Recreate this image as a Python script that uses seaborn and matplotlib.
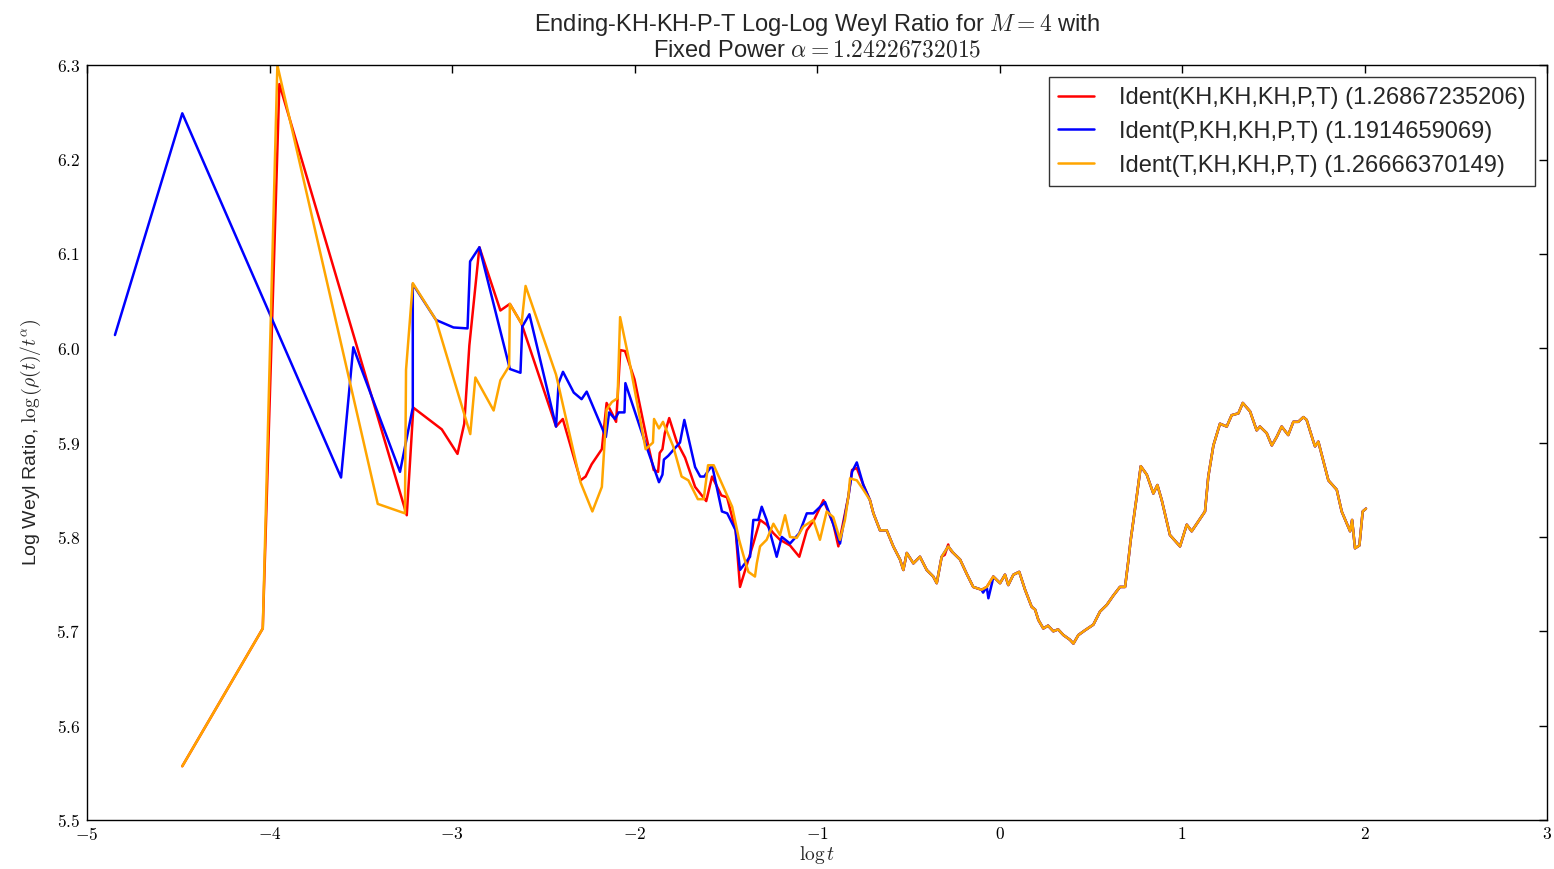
import matplotlib
matplotlib.use("Agg")
import matplotlib.pyplot as plt
import matplotlib.ticker as mticker
import seaborn as sns
import numpy as np
import pandas as pd

# values (log t, log Weyl ratio)
red_x = [-4.478, -4.037, -3.946, -3.248, -3.212, -3.056, -2.970, -2.933, -2.905, -2.850,
         -2.735, -2.683, -2.619, -2.430, -2.393, -2.296, -2.268, -2.235, -2.179, -2.153,
         -2.126, -2.101, -2.093, -2.078, -2.052, -2.000, -1.935, -1.895, -1.871, -1.862,
         -1.847, -1.834, -1.810, -1.769, -1.723, -1.668, -1.607, -1.575, -1.524, -1.493,
         -1.446, -1.422, -1.349, -1.312, -1.276, -1.239, -1.203, -1.148, -1.097, -1.056,
         -1.016, -0.965, -0.911, -0.883, -0.828, -0.808, -0.782, -0.746, -0.710,
         -0.300, -0.281, -0.260]
red_y = [5.557, 5.703, 6.280, 5.823, 5.937, 5.914, 5.888, 5.920, 6.003, 6.107,
         6.040, 6.047, 6.026, 5.917, 5.925, 5.860, 5.864, 5.877, 5.893, 5.942,
         5.932, 5.922, 5.946, 5.998, 5.997, 5.967, 5.906, 5.871, 5.869, 5.889,
         5.893, 5.910, 5.926, 5.901, 5.884, 5.853, 5.838, 5.864, 5.844, 5.842,
         5.807, 5.747, 5.793, 5.818, 5.813, 5.804, 5.797, 5.791, 5.779, 5.807,
         5.818, 5.839, 5.814, 5.790, 5.843, 5.871, 5.873, 5.855, 5.839,
         5.781, 5.792, 5.784]

blue_x = [-4.847, -4.478, -3.608, -3.541, -3.285, -3.215, -3.215, -3.088, -2.992, -2.915,
          -2.901, -2.850, -2.683, -2.625, -2.615, -2.576, -2.430, -2.416, -2.392, -2.333,
          -2.290, -2.262, -2.157, -2.139, -2.107, -2.087, -2.055, -2.050, -1.935, -1.866,
          -1.847, -1.839, -1.815, -1.779, -1.751, -1.727, -1.668, -1.640, -1.618, -1.575,
          -1.521, -1.492, -1.446, -1.422, -1.367, -1.349, -1.322, -1.303, -1.276, -1.221,
          -1.193, -1.148, -1.097, -1.056, -1.020, -0.956, -0.919, -0.874, -0.828, -0.808,
          -0.782, -0.746, -0.710,
          -0.090, -0.061, -0.040]
blue_y = [6.014, 6.249, 5.863, 6.001, 5.869, 5.937, 6.068, 6.030, 6.022, 6.021,
          6.092, 6.107, 5.978, 5.974, 6.023, 6.036, 5.917, 5.963, 5.975, 5.953,
          5.946, 5.954, 5.906, 5.932, 5.925, 5.932, 5.932, 5.963, 5.896, 5.858,
          5.866, 5.882, 5.886, 5.894, 5.900, 5.924, 5.874, 5.864, 5.864, 5.876,
          5.827, 5.825, 5.807, 5.765, 5.779, 5.818, 5.818, 5.832, 5.818, 5.779,
          5.800, 5.793, 5.804, 5.825, 5.825, 5.837, 5.818, 5.793, 5.843, 5.869,
          5.879, 5.855, 5.839,
          5.741, 5.735, 5.752]

orange_x = [-4.478, -4.037, -3.957, -3.407, -3.258, -3.252, -3.215, -3.088, -2.900, -2.872,
            -2.772, -2.735, -2.687, -2.683, -2.619, -2.597, -2.430, -2.296, -2.231, -2.179,
            -2.153, -2.124, -2.093, -2.079, -2.028, -1.939, -1.899, -1.893, -1.866, -1.844,
            -1.788, -1.742, -1.705, -1.653, -1.621, -1.597, -1.566, -1.465, -1.427, -1.404,
            -1.376, -1.340, -1.330, -1.312, -1.276, -1.239, -1.203, -1.175, -1.148, -1.111,
            -1.075, -1.020, -0.984, -0.947, -0.911, -0.874, -0.847, -0.828, -0.819, -0.782,
            -0.746, -0.710]
orange_y = [5.557, 5.703, 6.300, 5.835, 5.825, 5.977, 6.069, 6.030, 5.909, 5.969,
            5.934, 5.966, 5.981, 6.047, 6.026, 6.066, 5.972, 5.858, 5.827, 5.853,
            5.935, 5.943, 5.947, 6.033, 5.986, 5.893, 5.900, 5.925, 5.915, 5.922,
            5.896, 5.864, 5.860, 5.840, 5.840, 5.876, 5.876, 5.832, 5.797, 5.781,
            5.763, 5.758, 5.772, 5.790, 5.797, 5.814, 5.802, 5.823, 5.800, 5.799,
            5.811, 5.818, 5.797, 5.827, 5.821, 5.797, 5.818, 5.843, 5.862, 5.860,
            5.850, 5.839]

# shared part where the three curves lie on top of each other
tail_x = [-0.691, -0.655, -0.618, -0.582, -0.545, -0.527, -0.508, -0.472, -0.436, -0.399,
          -0.363, -0.344, -0.317, -0.281, -0.253, -0.216, -0.180, -0.144, -0.098, -0.070,
          -0.034, 0.003, 0.030, 0.048, 0.076, 0.108, 0.140, 0.176, 0.195, 0.213,
          0.240, 0.266, 0.295, 0.321, 0.350, 0.386, 0.405, 0.432, 0.468, 0.514,
          0.551, 0.588, 0.624, 0.660, 0.688, 0.706, 0.719, 0.752, 0.774, 0.807,
          0.843, 0.865, 0.889, 0.934, 0.989, 1.026, 1.053, 1.081, 1.126, 1.144,
          1.172, 1.208, 1.245, 1.272, 1.309, 1.333, 1.373, 1.409, 1.427, 1.464,
          1.492, 1.519, 1.546, 1.582, 1.610, 1.637, 1.665, 1.683, 1.720, 1.729,
          1.747, 1.802, 1.848, 1.875, 1.921, 1.932, 1.948, 1.972, 1.990, 2.008]
tail_y = [5.825, 5.807, 5.807, 5.790, 5.776, 5.765, 5.783, 5.772, 5.779, 5.765,
          5.758, 5.751, 5.779, 5.790, 5.783, 5.776, 5.761, 5.747, 5.744, 5.747,
          5.758, 5.751, 5.760, 5.749, 5.760, 5.763, 5.744, 5.726, 5.723, 5.712,
          5.703, 5.706, 5.700, 5.702, 5.696, 5.691, 5.687, 5.696, 5.701, 5.707,
          5.721, 5.728, 5.738, 5.747, 5.747, 5.775, 5.797, 5.843, 5.875, 5.866,
          5.846, 5.855, 5.839, 5.802, 5.790, 5.813, 5.806, 5.814, 5.827, 5.864,
          5.897, 5.920, 5.917, 5.929, 5.931, 5.942, 5.933, 5.913, 5.917, 5.910,
          5.897, 5.906, 5.917, 5.908, 5.922, 5.922, 5.927, 5.924, 5.901, 5.896,
          5.901, 5.860, 5.850, 5.827, 5.806, 5.818, 5.788, 5.791, 5.827, 5.830]

labels = ["Ident(KH,KH,KH,P,T) (1.26867235206)",
          "Ident(P,KH,KH,P,T) (1.1914659069)",
          "Ident(T,KH,KH,P,T) (1.26666370149)"]
colors = ["red", "blue", "orange"]


def merge(xs, ys):
    # join a curve's own points with the shared tail, keeping order in x
    pts = list(zip(xs, ys)) + list(zip(tail_x, tail_y))
    idx = sorted(range(len(pts)), key=lambda i: (pts[i][0], i))
    return [pts[i][0] for i in idx], [pts[i][1] for i in idx]


frames = []
for lab, xs, ys in zip(labels, [red_x, blue_x, orange_x], [red_y, blue_y, orange_y]):
    mx, my = merge(xs, ys)
    frames.append(pd.DataFrame({"x": mx, "y": my, "serie": lab}))
df = pd.concat(frames, ignore_index=True)

sns.set_style("white")
plt.rcParams["font.family"] = ["Liberation Sans", "DejaVu Sans"]
plt.rcParams["mathtext.fontset"] = "cm"

fig = plt.figure(figsize=(15.54, 8.69), dpi=100)
ax = fig.add_axes([0.056, 0.0564, 0.9395, 0.8686])

sns.lineplot(data=df, x="x", y="y", hue="serie", palette=colors, hue_order=labels,
             sort=False, estimator=None, units="serie", linewidth=1.8, ax=ax)

ax.set_xlim(-5, 3)
ax.set_ylim(5.5, 6.3)
ax.xaxis.set_major_locator(mticker.MultipleLocator(1))
ax.yaxis.set_major_locator(mticker.MultipleLocator(0.1))
ax.xaxis.set_major_formatter(mticker.FuncFormatter(lambda v, p: f"${v:.0f}$"))
ax.yaxis.set_major_formatter(mticker.FuncFormatter(lambda v, p: f"${v:.1f}$"))
ax.tick_params(direction="in", length=6, width=1, top=True, right=True,
               labelsize=12.5, pad=5, colors="black")
ax.tick_params(axis="x", pad=4)
for s in ax.spines.values():
    s.set_color("black")
    s.set_linewidth(1.0)

ax.set_title("Ending-KH-KH-P-T Log-Log Weyl Ratio for $M = 4$ with\n"
             "Fixed Power $\\alpha = 1.24226732015$", fontsize=17, pad=6, linespacing=1.08)
ax.set_xlabel("$\\log t$", fontsize=14, labelpad=1)
ax.set_ylabel("Log Weyl Ratio, $\\log\\left(\\rho(t)/t^\\alpha\\right)$", fontsize=14, labelpad=9)

leg = ax.legend(loc="upper right", fontsize=17, frameon=True, fancybox=False,
                handlelength=1.5, borderpad=0.42, labelspacing=0.5, handletextpad=1.05,
                borderaxespad=0.5)
leg.get_frame().set_edgecolor("black")
leg.get_frame().set_linewidth(1.0)
for line in leg.get_lines():
    line.set_linewidth(1.8)

fig.savefig("out.png", dpi=100)
